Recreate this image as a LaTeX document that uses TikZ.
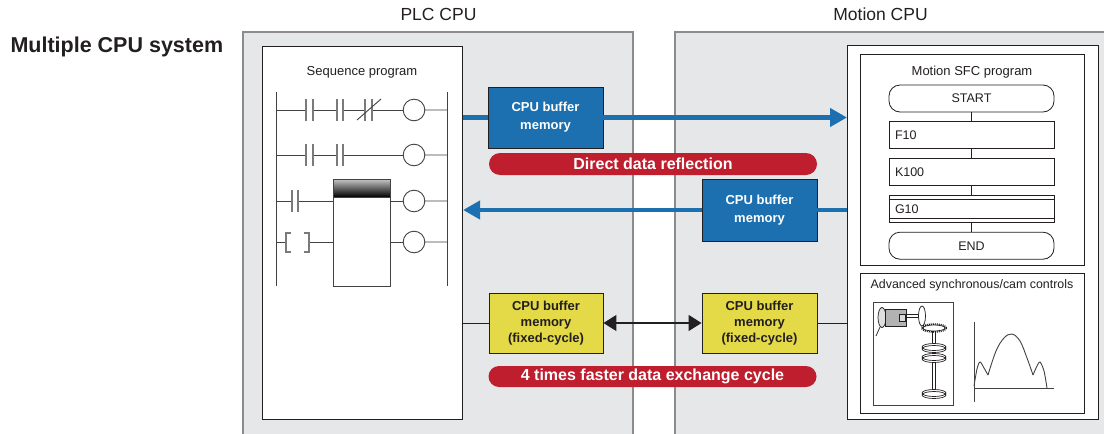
\documentclass[tikz,border=0pt]{standalone}
\usepackage{fontspec}
\setmainfont{Liberation Sans}
\usetikzlibrary{arrows.meta, positioning, shapes.misc}

\definecolor{panelgray}{RGB}{230,231,232}
\definecolor{edgegray}{RGB}{140,140,140}
\definecolor{bufblue}{RGB}{29,112,176}
\definecolor{flagred}{RGB}{190,30,45}
\definecolor{bufyellow}{RGB}{228,217,70}
\definecolor{ink}{RGB}{35,31,32}

\newcommand{\fsize}[2]{\fontsize{#1}{#2}\selectfont}

\tikzset{
    % Panels and frames
    frame/.style     = {draw=ink, line width=1.1pt, fill=white, inner sep=0pt, anchor=north west},
    heading/.style   = {font=\fsize{17.5}{20}, text=ink, anchor=base},
    caption/.style   = {font=\fsize{13}{15}, text=ink},
    % Buffer memories and banners
    buffer/.style    = {draw=ink, line width=0.9pt, inner sep=0pt, align=center, minimum width=115pt},
    bluebuf/.style   = {buffer, fill=bufblue, text=white, minimum height=61pt, font=\bfseries\fsize{13}{18}},
    yellowbuf/.style = {buffer, fill=bufyellow, text=ink, minimum height=60pt, font=\bfseries\fsize{13}{16}},
    banner/.style    = {rounded rectangle, fill=flagred, text=white, minimum width=328pt,
                        minimum height=22pt, inner sep=0pt, font=\bfseries\fsize{16}{18}},
    % Edges
    blueline/.style  = {draw=bufblue, line width=4.5pt},
    bluearrow/.style = {blueline, -{Triangle[length=17pt, width=18pt]}},
    wire/.style      = {draw=ink, line width=1pt},
    dblarrow/.style  = {draw=ink, line width=1.3pt,
                        {Triangle[length=13pt, width=16pt]}-{Triangle[length=13pt, width=16pt]}},
    % Ladder and SFC parts
    rail/.style      = {draw=ink!85, line width=0.9pt},
    plate/.style     = {draw=ink!60, line width=1.8pt},
    sfcbase/.style   = {draw=ink, line width=0.8pt, fill=white, minimum height=27pt,
                        font=\fsize{12.5}{14}, text=ink},
    sfcstep/.style   = {sfcbase, rectangle, inner xsep=6pt, inner ysep=0pt, text width=153pt, align=left},
    sfcterm/.style   = {sfcbase, rectangle, rounded corners=11pt, minimum width=165pt, inner sep=0pt},
}

\begin{document}
\begin{tikzpicture}[x=1pt, y=-1pt]
    \useasboundingbox (0,0) rectangle (1104,434);

    % CPU panels
    \fill[panelgray] (243,32) rectangle (633,434);
    \fill[panelgray] (675,32) rectangle (1104,434);
    \draw[edgegray, line width=1.4pt] (243,434) -- (243,32) -- (633,32) -- (633,434);
    \draw[edgegray, line width=1.4pt] (675,434) -- (675,32) -- (1104,32);

    \node[font=\bfseries\fsize{21.5}{24}, text=ink, anchor=base west] (system) at (7,52) {Multiple CPU system};
    \node[heading] (plccpu) at (438.5,20.5) {PLC CPU};
    \node[heading] (motioncpu) at (880.5,20.5) {Motion CPU};

    % Program frames
    \node[frame, minimum width=200pt, minimum height=373pt] (seqbox) at (262,46) {};
    \node[frame, minimum width=251pt, minimum height=374pt] (motionbox) at (847,45) {};
    \node[frame, minimum width=224pt, minimum height=211pt] (sfcbox) at (860,54) {};
    \node[frame, minimum width=224pt, minimum height=140pt] (cambox) at (860,273) {};
    \node[caption] (seqlabel) at (362,72) {Sequence program};
    \node[caption] (sfclabel) at (972,72) {Motion SFC program};
    \node[caption, font=\fsize{12.4}{14}] (camlabel) at (972,285) {Advanced synchronous/cam controls};

    % Ladder diagram
    \draw[rail] (276,92) -- (276,286) (447,92) -- (447,286);
    \foreach \y in {110,155,201,242}
        \draw[rail] (414,\y) circle (10.8pt) (424.8,\y) -- (447,\y);
    \draw[rail] (276,110) -- (306,110) (313,110) -- (337,110) (343,110) -- (365,110) (372,110) -- (403.2,110);
    \draw[rail] (276,155) -- (306,155) (313,155) -- (337,155) (343,155) -- (403.2,155);
    \draw[rail] (276,201) -- (292,201) (298,201) -- (333,201) (390,201) -- (403.2,201);
    \draw[rail] (276,242) -- (286,242) (309,242) -- (333,242) (390,242) -- (403.2,242);
    \foreach \x/\y/\w in {306/110/7, 337/110/6, 365/110/7, 306/155/7, 337/155/6, 292/201/6}
        \draw[plate] (\x,\y-11) -- (\x,\y+11) (\x+\w,\y-11) -- (\x+\w,\y+11);
    \draw[rail] (357,120) -- (381,99);
    \draw[plate, line width=1.1pt] (291,233) -- (286,233) -- (286,252) -- (291,252)
                                    (304,233) -- (309,233) -- (309,252) -- (304,252);
    % function block with shaded header
    \draw[rail, fill=white] (333,179) rectangle (390,286);
    \shade[top color=gray!45, bottom color=black] (333,179) rectangle (390,197);
    \draw[rail] (333,179) rectangle (390,197);

    % Direct data reflection
    \node[bluebuf] (bufplc) at (545.5,117.5) {CPU buffer\\memory};
    \node[bluebuf, minimum height=62pt] (bufmotion) at (759.5,210) {CPU buffer\\memory};
    \node[banner] (reflect) at (653,164) {Direct data reflection};
    \draw[blueline] (seqbox.east |- bufplc) -- (bufplc.west);
    \draw[bluearrow] (bufplc.east) -- (motionbox.west |- bufplc);
    \draw[blueline] (motionbox.west |- bufmotion) -- (bufmotion.east);
    \draw[bluearrow] (bufmotion.west) -- (seqbox.east |- bufmotion);

    % Fixed-cycle exchange
    \node[yellowbuf, minimum width=114pt] (fixplc) at (546,323) {CPU buffer\\memory\\(fixed-cycle)};
    \node[yellowbuf] (fixmotion) at (759.5,323) {CPU buffer\\memory\\(fixed-cycle)};
    \node[banner, minimum height=21pt] (faster) at (652.5,376.5) {4 times faster data exchange cycle};
    \draw[wire] (seqbox.east |- fixplc) -- (fixplc.west);
    \draw[dblarrow] (fixplc.east) -- (fixmotion.west);
    \draw[wire] (fixmotion.east) -- (motionbox.west |- fixmotion);

    % Motion SFC chart
    \node[sfcterm] (start) at (971.5,98.5) {START};
    \node[sfcstep, below=9pt of start] (f10) {F10};
    \node[sfcstep, below=9pt of f10] (k100) {K100};
    \node[sfcstep, below=9pt of k100] (g10) {G10};
    \node[sfcterm, below=9pt of g10] (endstep) {END};
    \draw[wire, line width=1.5pt] (start) -- (f10) (f10) -- (k100) (k100) -- (g10) (g10) -- (endstep);
    \draw[wire, line width=0.8pt] ([yshift=-4pt]g10.north west) -- ([yshift=-4pt]g10.north east)
                                  ([yshift=4pt]g10.south west) -- ([yshift=4pt]g10.south east);

    % Cam mechanism sketch
    \draw[rail] (873,302) rectangle (953,405);
    \draw[ink, line width=0.7pt, fill=gray!25] (882,317.5) ellipse [x radius=4pt, y radius=10pt];
    \draw[ink, line width=0.7pt, fill=gray!60] (885,309) rectangle (906,326);
    \draw[ink, line width=0.7pt, fill=gray!30] (899,314) rectangle (905,321);
    \draw[ink, line width=0.7pt] (880,327) .. controls (878,332) .. (876,336);
    \draw[ink, line width=0.7pt] (906,314.5) -- (919,314.5) (906,317.5) -- (919,317.5);
    \draw[ink, line width=0.7pt, fill=white] (922,316) ellipse [x radius=3.5pt, y radius=10pt];
    \draw[ink, line width=0.7pt] (932,331) -- (932,391) (935,331) -- (935,391);
    \draw[ink, line width=1.6pt, dash pattern=on 1pt off 1pt] (934,328) ellipse [x radius=12.5pt, y radius=4pt];
    \draw[ink, line width=0.7pt, fill=white] (934,328) ellipse [x radius=11pt, y radius=3pt];
    \foreach \y in {347,357,393}
        \draw[ink, line width=0.7pt, fill=white] (934,\y+2) ellipse [x radius=12pt, y radius=3.5pt]
                                                 (934,\y) ellipse [x radius=12pt, y radius=3.5pt];

    % Cam profile
    \draw[rail] (974,322) -- (974,402) (974,388) -- (1054,388);
    \draw[rail] plot[smooth, tension=0.5] coordinates {(974,386) (977,369) (980,362) (984,368) (988,375)};
    \draw[rail] plot[smooth, tension=0.6] coordinates {(988,375) (996,351) (1004,338) (1012,334) (1020,341) (1027,358) (1033,375)};
    \draw[rail] plot[smooth, tension=0.5] coordinates {(1033,375) (1037,366) (1040,362) (1044,371) (1047,388)};
\end{tikzpicture}
\end{document}
